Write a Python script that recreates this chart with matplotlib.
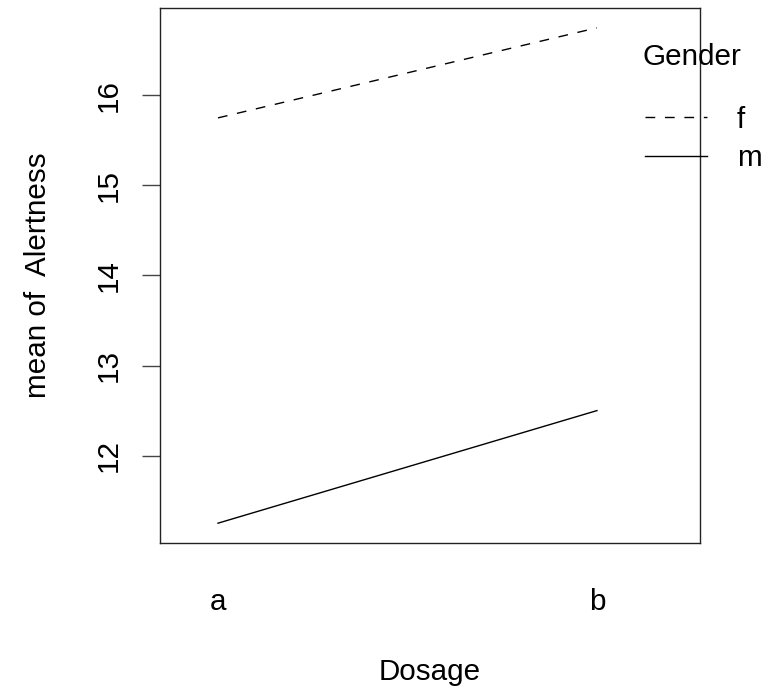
import matplotlib
matplotlib.use("Agg")
import matplotlib.pyplot as plt
from matplotlib.lines import Line2D

plt.rcParams['font.family'] = ['Liberation Sans', 'DejaVu Sans']

dosage = ['a', 'b']
genders = ['f', 'm']
mean_f = [15.75, 16.75]
mean_m = [11.25, 12.5]
yticks = [12, 13, 14, 15, 16]

W, H = 770, 691
FS = 21.3
fig = plt.figure(figsize=(W / 100, H / 100), dpi=100)
ax = fig.add_axes([160 / W, 1 - 543 / H, 540 / W, 535 / H])

xs = [1, 2]
dash = (0, (7, 7))
ax.plot(xs, mean_f, color='black', lw=1.0, linestyle=dash)
ax.plot(xs, mean_m, color='black', lw=1.0, linestyle='-')

ax.set_xlim(0.847, 2.272)
ax.set_ylim(11.03, 16.97)
ax.set_yticks(yticks)
ax.set_yticklabels([str(v) for v in yticks], rotation=90, va='center', fontsize=FS)
ax.tick_params(axis='y', length=13, width=1.0, color='#444444', pad=13.5)
ax.set_xticks(xs)
ax.set_xticklabels(dosage, fontsize=FS)
ax.tick_params(axis='x', length=0, pad=32.5)
for s in ax.spines.values():
    s.set_linewidth(1.0)
    s.set_color('#222222')
ax.set_xlabel('Dosage', fontsize=FS)
ax.xaxis.set_label_coords(0.5, (543 - 658) / 535)
ax.set_ylabel('mean of  Alertness', fontsize=FS)
ax.yaxis.set_label_coords((52 - 160) / 540, 0.5)

# legend (R style, outside plot region)
fig.text(642 / W, 1 - 65 / H, 'Gender', fontsize=FS, va='baseline', ha='left')
styles = {'f': dash, 'm': '-'}
for g, yl, yb in zip(genders, [117, 156], [128, 166]):
    fig.add_artist(Line2D([645 / W, 707 / W], [1 - yl / H, 1 - yl / H],
                          color='black', lw=1.0, linestyle=styles[g],
                          transform=fig.transFigure))
    fig.text(737 / W, 1 - yb / H, g, fontsize=FS, va='baseline', ha='left')

fig.savefig('out.png', dpi=100)
